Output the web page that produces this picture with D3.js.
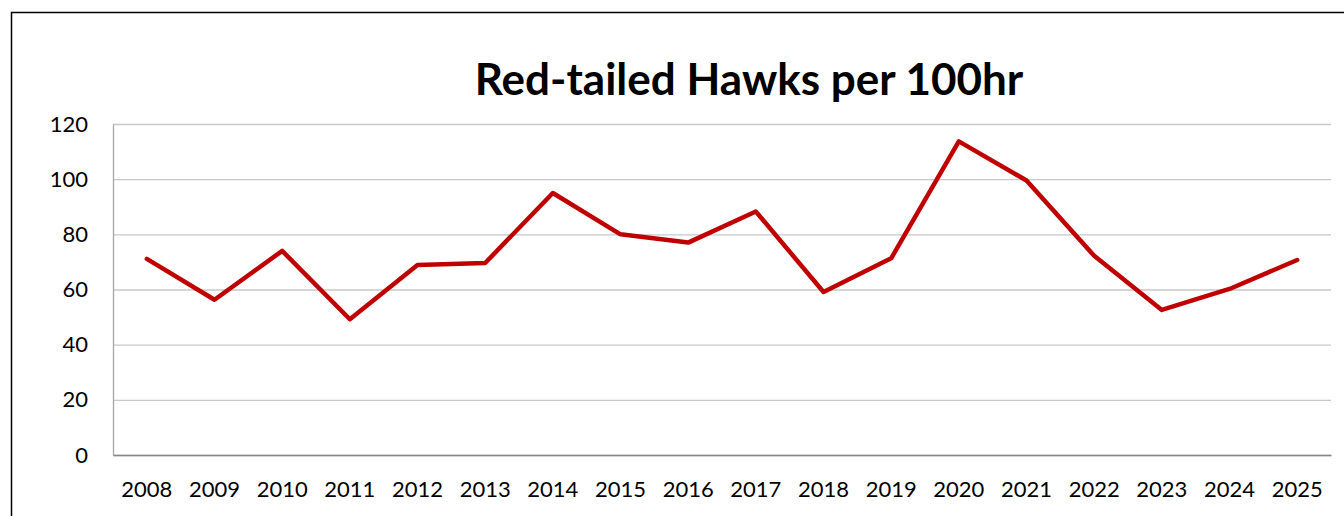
<!DOCTYPE html>
<html>
<head>
<meta charset="utf-8">
<script src="https://cdn.jsdelivr.net/npm/d3@7"></script>
<style>
  html, body { margin: 0; padding: 0; background: #fff; }
  svg { display: block; font-family: Lato, "Open Sans", sans-serif; }
</style>
</head>
<body>
<svg id="chart" width="1344" height="516"></svg>
<script>
const years = ['2008', '2009', '2010', '2011', '2012', '2013', '2014', '2015', '2016',
  '2017', '2018', '2019', '2020', '2021', '2022', '2023', '2024', '2025'];
const hawksPer100hr = [71.1, 56.3, 74.0, 49.2, 68.9, 69.6, 95.0, 80.0, 77.0,
  88.3, 59.1, 71.3, 113.7, 99.5, 72.2, 52.6, 60.2, 70.7];
const yTicks = [0, 20, 40, 60, 80, 100, 120];
const title = 'Red-tailed Hawks per 100hr';

const MARGIN = { top: 124, right: 13, bottom: 61, left: 113 };
const width = 1344;
const height = 516;
const chartWidth = width - MARGIN.left - MARGIN.right;
const chartHeight = height - MARGIN.top - MARGIN.bottom;

const svg = d3.select('#chart');

// outer chart frame (only top and left edges visible in the crop)
svg.append('path')
  .attr('d', `M11.5,${height}V12.5H${width}`)
  .attr('fill', 'none')
  .attr('stroke', '#000')
  .attr('stroke-width', 1.5);

svg.append('text')
  .attr('x', 749)
  .attr('y', 95)
  .attr('text-anchor', 'middle')
  .attr('font-size', 44)
  .attr('font-weight', 'bold')
  .attr('fill', '#000')
  .text(title);

const xScale = d3.scaleBand().domain(years).range([0, chartWidth]);
const yScale = d3.scaleLinear().domain([0, 120]).range([chartHeight, 0]);

const g = svg.append('g').attr('transform', `translate(${MARGIN.left},${MARGIN.top})`);

// gridlines
g.append('g')
  .call(d3.axisLeft(yScale).tickValues(yTicks).tickSize(-chartWidth).tickFormat(''))
  .call((sel) => sel.select('.domain').remove())
  .selectAll('line')
  .attr('stroke', '#c8c8c8')
  .attr('stroke-width', 1.3);

// y axis labels + vertical axis line
const yAxis = g.append('g')
  .call(d3.axisLeft(yScale).tickValues(yTicks).tickSize(0).tickPadding(25));
yAxis.select('.domain').attr('stroke', '#a6a6a6').attr('stroke-width', 1.3);
yAxis.selectAll('text')
  .attr('font-size', 22)
  .attr('fill', '#000')
  .attr('font-family', 'Lato, "Open Sans", sans-serif');

// x axis
const xAxis = g.append('g')
  .attr('transform', `translate(0,${chartHeight})`)
  .call(d3.axisBottom(xScale).tickSize(0).tickPadding(26));
xAxis.select('.domain').attr('stroke', '#868686').attr('stroke-width', 1.3);
xAxis.selectAll('text')
  .attr('font-size', 22)
  .attr('fill', '#000')
  .attr('font-family', 'Lato, "Open Sans", sans-serif');

const line = d3.line()
  .x((d, i) => xScale(years[i]) + xScale.bandwidth() / 2)
  .y((d) => yScale(d));

g.append('path')
  .datum(hawksPer100hr)
  .attr('d', line)
  .attr('fill', 'none')
  .attr('stroke', '#c00000')
  .attr('stroke-width', 4.5)
  .attr('stroke-linejoin', 'round')
  .attr('stroke-linecap', 'round');
</script>
</body>
</html>
